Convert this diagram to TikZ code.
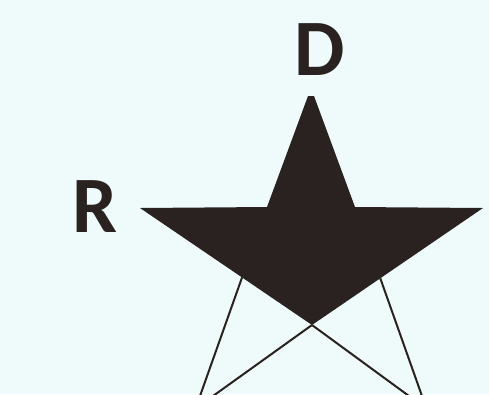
\documentclass[tikz,border=0pt]{standalone}
\usepackage{fontspec}
\setmainfont{Carlito}
\definecolor{bg}{HTML}{EFFAFA}
\definecolor{ink}{HTML}{2A2220}
\tikzset{
  letter/.style={font=\bfseries\fontsize{60}{60}\selectfont, text=ink, inner sep=0pt},
  leg/.style={draw=ink, line width=1.5pt},
}
\begin{document}
\begin{tikzpicture}[x=0.75pt,y=-0.75pt]
\fill[bg] (0,0) rectangle (489,394);
\useasboundingbox (0,0) rectangle (489,394);
% star vertices
\coordinate (TL) at (308,96);
\coordinate (TR) at (314,96);
\coordinate (L) at (140,208);
\coordinate (R) at (483,208);
\coordinate (IL) at (267,207);
\coordinate (IR) at (355,207);
\coordinate (B) at (312,325);
\coordinate (BLl) at (200,396);
\coordinate (BRl) at (422,396);
\coordinate (BLc) at (213,396);
\coordinate (BRc) at (409,396);
\coordinate (LL) at (intersection of IL--BLl and L--B);
\coordinate (LR) at (intersection of IR--BRl and R--B);
% filled upper part
\fill[ink] (TL) -- (TR) -- (IR) -- (R) -- (B) -- (L) -- (IL) -- cycle;
% legs
\draw[leg] (LL) -- (BLl);
\draw[leg] (LR) -- (BRl);
\draw[leg] (B) -- (BLc);
\draw[leg] (B) -- (BRc);
% labels
\node[letter] (d) at (320,50) {D};
\node[letter] (r) at (95,207) {R};
\end{tikzpicture}
\end{document}
